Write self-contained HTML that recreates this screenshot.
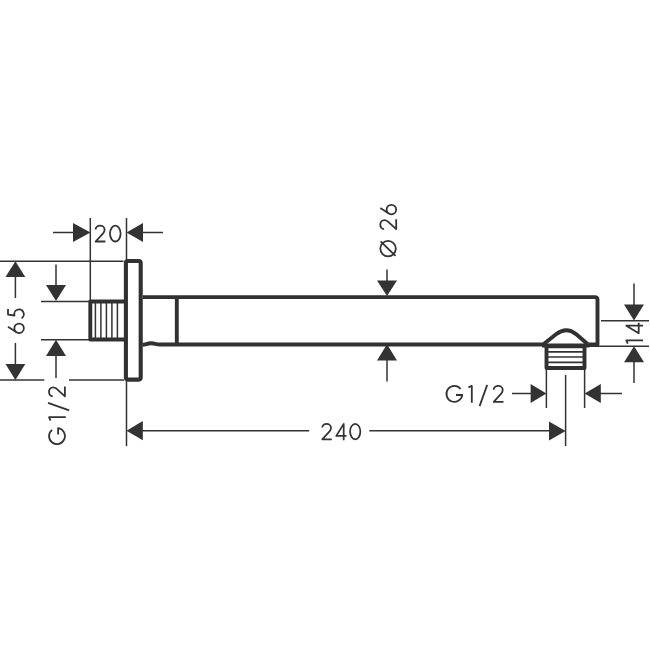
<!DOCTYPE html>
<html><head><meta charset="utf-8">
<style>
html,body{margin:0;padding:0;background:#fff;width:650px;height:650px;overflow:hidden}
svg{display:block}
text{font-family:"Liberation Sans",sans-serif;fill:#333}
</style></head>
<body>
<svg width="650" height="650" viewBox="0 0 650 650">
<g fill="none" stroke="#333" stroke-width="1.5">
  <!-- dim 20 -->
  <line x1="90.3" y1="218" x2="90.3" y2="301"/>
  <line x1="126.5" y1="218" x2="126.5" y2="260"/>
  <line x1="53" y1="232.5" x2="74" y2="232.5"/>
  <line x1="142" y1="232.5" x2="163" y2="232.5"/>
  <!-- dim 65 ext lines -->
  <line x1="0" y1="261.2" x2="123.5" y2="261.2"/>
  <line x1="0" y1="380" x2="44.3" y2="380"/>
  <line x1="69" y1="380" x2="124" y2="380"/>
  <line x1="15.4" y1="276" x2="15.4" y2="298"/>
  <line x1="15.4" y1="342.9" x2="15.4" y2="365"/>
  <!-- G1/2 left -->
  <line x1="41" y1="301.5" x2="89" y2="301.5"/>
  <line x1="41" y1="339.7" x2="89" y2="339.7"/>
  <line x1="56" y1="264.5" x2="56" y2="286"/>
  <line x1="56" y1="355" x2="56" y2="378"/>
  <!-- thread inner lines -->
  <line x1="95.4" y1="302" x2="95.4" y2="339"/>
  <line x1="100.9" y1="302" x2="100.9" y2="339"/>
  <line x1="106.4" y1="302" x2="106.4" y2="339"/>
  <line x1="111.9" y1="302" x2="111.9" y2="339"/>
  <line x1="117.4" y1="302" x2="117.4" y2="339"/>
  <!-- 240 -->
  <line x1="126.5" y1="381" x2="126.5" y2="446.2"/>
  <line x1="142" y1="430.8" x2="309.2" y2="430.8"/>
  <line x1="369.3" y1="430.8" x2="550" y2="430.8"/>
  <line x1="565.6" y1="375" x2="565.6" y2="446"/>
  <!-- G1/2 right -->
  <line x1="546.4" y1="368" x2="546.4" y2="408"/>
  <line x1="584.6" y1="368" x2="584.6" y2="408"/>
  <line x1="512" y1="393.5" x2="531" y2="393.5"/>
  <line x1="600" y1="393.5" x2="622" y2="393.5"/>
  <!-- dia 26 -->
  <line x1="387" y1="269.6" x2="387" y2="281"/>
  <line x1="387" y1="360" x2="387" y2="381.6"/>
  <!-- 14 -->
  <line x1="601" y1="320.8" x2="649" y2="320.8"/>
  <line x1="588.5" y1="346.3" x2="649" y2="346.3"/>
  <line x1="634" y1="283.5" x2="634" y2="305"/>
  <line x1="634" y1="361" x2="634" y2="383"/>
</g>
<g fill="#333" stroke="none">
  <!-- arrowheads -->
  <polygon points="73,223 90.5,232.5 73,242"/>
  <polygon points="143,223 126.5,232.5 143,242"/>
  <polygon points="5.5,277.1 15.4,261.2 25.3,277.1"/>
  <polygon points="5.5,364 15.4,380 25.3,364"/>
  <polygon points="46,285 56,301 66,285"/>
  <polygon points="46,356.1 56,339.8 66,356.1"/>
  <polygon points="142.8,421 126.5,430.7 142.8,440.3"/>
  <polygon points="549,421.5 565.6,431 549,440.5"/>
  <polygon points="530.6,384 546.4,393.5 530.6,403"/>
  <polygon points="600.8,384 584.6,393.5 600.8,403"/>
  <polygon points="377,280.4 387,296 397,280.4"/>
  <polygon points="377,360.6 387,344.3 397,360.6"/>
  <polygon points="624,304.5 634,320.5 644,304.5"/>
  <polygon points="624,362.3 634,346.2 644,362.3"/>
</g>
<g fill="none" stroke="#313131" stroke-width="3.9" stroke-linejoin="round">
  <!-- plate -->
  <rect x="125.9" y="261" width="14.8" height="118.6" rx="2" stroke-width="4.1"/>
  <!-- left thread -->
  <polyline points="124,301.5 90.3,301.5 90.3,339.5 124,339.5"/>
  <!-- pipe -->
  <path d="M143 297.1 H594.9 Q597.5 297.1 597.5 299.7 V344.5 H588.5"/>
  <path d="M142.5,344.8 C146,344.4 148,343.1 151.5,343.3 C155,343.5 156,344.5 160,344.5 H543.5"/>
  <line x1="176.8" y1="297.1" x2="176.8" y2="344.5"/>
  <!-- dome -->
  <path d="M543.5,344.2 L556,334.3 Q566.2,326.3 576,334.1 L587.8,344.2"/>
  <!-- nozzle thread -->
  <rect x="546.5" y="346.2" width="38" height="21.8"/>
  <line x1="542" y1="345.5" x2="589.5" y2="345.5"/>
</g>
<g fill="none" stroke="#333" stroke-width="1.7">
  <line x1="548" y1="351.8" x2="583" y2="351.8"/>
  <line x1="548" y1="357" x2="583" y2="357"/>
  <line x1="548" y1="362.4" x2="583" y2="362.4"/>
</g>
<g fill="none" stroke="#333" stroke-width="1.8" stroke-linecap="butt" stroke-linejoin="round">
<g transform="translate(94.70,224.70)"><path d="M0.9,4.7 C0.9,2.3 3.0,0.9 5.4,0.9 C8.0,0.9 9.9,2.7 9.9,5.0 C9.9,6.4 9.3,7.5 8.4,8.6 L0.9,16.8 H10.7"/></g>
<g transform="translate(109.10,224.70)"><ellipse cx="6.2" cy="8.85" rx="5.3" ry="7.95"/></g>
<g transform="translate(321.40,423.00) scale(0.97)"><path d="M0.9,4.7 C0.9,2.3 3.0,0.9 5.4,0.9 C8.0,0.9 9.9,2.7 9.9,5.0 C9.9,6.4 9.3,7.5 8.4,8.6 L0.9,16.8 H10.7"/></g>
<g transform="translate(335.40,423.00) scale(0.97)"><path d="M8.55,17.7 V0.9 L0.9,13.3 H11.4"/></g>
<g transform="translate(349.20,423.00) scale(0.97)"><ellipse cx="6.2" cy="8.85" rx="5.3" ry="7.95"/></g>
<g transform="translate(445.90,385.00)"><path d="M14.76,4.0 A7.95,7.95 0 1 0 16.37,10.0 L10.1,10.0"/></g>
<g transform="translate(467.50,385.00)"><path d="M0.9,2.4 L4.3,0.9 V17.7"/></g>
<g transform="translate(478.80,385.00)"><path d="M8.4,-0.1 L0.8,21.1"/></g>
<g transform="translate(492.80,385.00)"><path d="M0.9,4.7 C0.9,2.3 3.0,0.9 5.4,0.9 C8.0,0.9 9.9,2.7 9.9,5.0 C9.9,6.4 9.3,7.5 8.4,8.6 L0.9,16.8 H10.7"/></g>
<g transform="translate(7.10,334.00) rotate(-90)"><circle cx="5.65" cy="12.0" r="4.75"/><path d="M7.3,0.9 L1.7,9.4"/></g>
<g transform="translate(7.10,320.00) rotate(-90)"><path d="M11,0.9 H5.4 L4.5,7.4 A4.75,4.75 0 1 1 1.79,14.4"/></g>
<g transform="translate(48.10,444.60) rotate(-90)"><path d="M14.76,4.0 A7.95,7.95 0 1 0 16.37,10.0 L10.1,10.0"/></g>
<g transform="translate(48.10,421.50) rotate(-90)"><path d="M0.9,2.4 L4.3,0.9 V17.7"/></g>
<g transform="translate(48.10,411.20) rotate(-90)"><path d="M8.4,-0.1 L0.8,21.1"/></g>
<g transform="translate(48.10,397.20) rotate(-90)"><path d="M0.9,4.7 C0.9,2.3 3.0,0.9 5.4,0.9 C8.0,0.9 9.9,2.7 9.9,5.0 C9.9,6.4 9.3,7.5 8.4,8.6 L0.9,16.8 H10.7"/></g>
<g transform="translate(379.40,257.10) rotate(-90)"><circle cx="8.5" cy="8.65" r="7.75"/><path d="M15.8,1.2 L1.2,16.1"/></g>
<g transform="translate(379.40,230.00) rotate(-90)"><path d="M0.9,4.7 C0.9,2.3 3.0,0.9 5.4,0.9 C8.0,0.9 9.9,2.7 9.9,5.0 C9.9,6.4 9.3,7.5 8.4,8.6 L0.9,16.8 H10.7"/></g>
<g transform="translate(379.40,215.20) rotate(-90)"><circle cx="5.65" cy="12.0" r="4.75"/><path d="M7.3,0.9 L1.7,9.4"/></g>
<g transform="translate(625.40,344.60) rotate(-90)"><path d="M0.9,2.4 L4.3,0.9 V17.7"/></g>
<g transform="translate(625.40,334.20) rotate(-90)"><path d="M8.55,17.7 V0.9 L0.9,13.3 H11.4"/></g>
</g>
</svg>
</body></html>
